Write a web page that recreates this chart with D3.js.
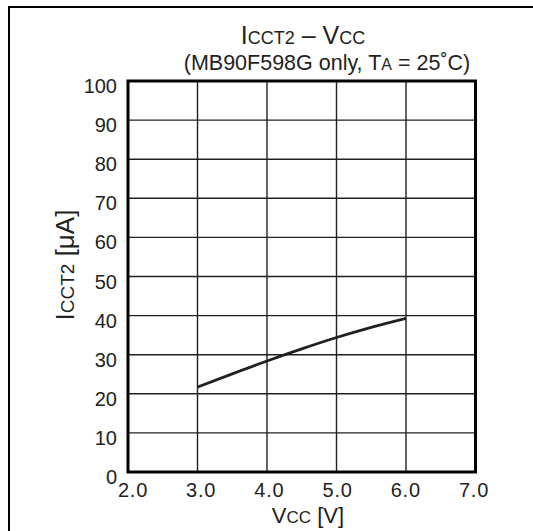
<!DOCTYPE html>
<html><head><meta charset="utf-8">
<script src="https://cdn.jsdelivr.net/npm/d3@7"></script>
<style>body{margin:0;background:#fff}svg{display:block}text{font-family:"Liberation Sans",Arial,sans-serif;fill:#231f20}</style>
</head><body>
<script>
const vcc = [3.0, 3.5, 4.0, 4.5, 5.0, 5.5, 6.0];
const icct2 = [21.7, 25.1, 28.4, 31.5, 34.4, 37.0, 39.3];
const xTicks = [2.0, 3.0, 4.0, 5.0, 6.0, 7.0];
const yTicks = [0, 10, 20, 30, 40, 50, 60, 70, 80, 90, 100];

const W = 533, H = 531;
const svg = d3.select("body").append("svg").attr("width", W).attr("height", H);
const m = {l:128, r:475.5, t:81, b:472};
const x = d3.scaleLinear().domain([2, 7]).range([m.l, m.r]);
const xLab = d3.scaleLinear().domain([2, 7]).range([m.l + 5, m.r - 1.5]);
const y = d3.scaleLinear().domain([0, 100]).range([m.b, m.t]);

// outer frame (top and left lines)
svg.append("line").attr("x1", 8).attr("x2", W).attr("y1", 7).attr("y2", 7).attr("stroke", "#000").attr("stroke-width", 2);
svg.append("line").attr("x1", 9).attr("x2", 9).attr("y1", 6).attr("y2", H).attr("stroke", "#000").attr("stroke-width", 2);

// grid
const g = svg.append("g");
g.selectAll(".vg").data(xTicks.slice(1, -1)).enter().append("line")
  .attr("x1", d => x(d)).attr("x2", d => x(d)).attr("y1", m.t).attr("y2", m.b)
  .attr("stroke", "#231f20").attr("stroke-width", 1.4);
g.selectAll(".hg").data(yTicks.slice(1, -1)).enter().append("line")
  .attr("x1", m.l).attr("x2", m.r).attr("y1", d => y(d)).attr("y2", d => y(d))
  .attr("stroke", "#231f20").attr("stroke-width", 1.4);
// plot border
g.append("rect").attr("x", m.l).attr("y", m.t).attr("width", m.r - m.l).attr("height", m.b - m.t)
  .attr("fill", "none").attr("stroke", "#000").attr("stroke-width", 3);

// curve
const line = d3.line().x((d, i) => x(vcc[i])).y(d => y(d)).curve(d3.curveMonotoneX);
svg.append("path").datum(icct2).attr("d", line).attr("fill", "none")
  .attr("stroke", "#231f20").attr("stroke-width", 2.8);

// axis tick labels
svg.selectAll(".xl").data(xTicks).enter().append("text")
  .attr("x", d => xLab(d)).attr("y", 496.5).attr("text-anchor", "middle")
  .style("font-size", "20px").style("letter-spacing", "0.8px").text(d => d.toFixed(1));
svg.selectAll(".yl").data(yTicks.slice(1)).enter().append("text")
  .attr("x", 117).attr("y", d => y(d) + 12).attr("text-anchor", "end")
  .style("font-size", "20px").text(d => d);
svg.append("text").attr("x", 117).attr("y", y(0) + 11.5).attr("text-anchor", "end")
  .style("font-size", "20px").text(yTicks[0]);

// titles
const t1 = svg.append("text").attr("x", 303).attr("y", 43.5).attr("text-anchor", "middle").style("font-size", "25px");
t1.append("tspan").text("I");
t1.append("tspan").style("font-size", "18px").text("CCT2");
t1.append("tspan").text(" – V");
t1.append("tspan").style("font-size", "18px").text("CC");

const t2 = svg.append("text").attr("x", 327).attr("y", 69.5).attr("text-anchor", "middle").style("font-size", "21.5px");
t2.append("tspan").text("(MB90F598G only, T");
t2.append("tspan").style("font-size", "16px").text("A");
t2.append("tspan").text(" = 25˚C)");

const xt = svg.append("text").attr("x", 308).attr("y", 522.5).attr("text-anchor", "middle").style("font-size", "22px");
xt.append("tspan").text("V");
xt.append("tspan").style("font-size", "17px").text("CC");
xt.append("tspan").text(" [V]");

const yt = svg.append("text").attr("transform", "translate(74,265) rotate(-90)").attr("text-anchor", "middle").style("font-size", "26px");
yt.append("tspan").text("I");
yt.append("tspan").style("font-size", "19px").text("CCT2");
yt.append("tspan").text(" [μA]");
</script>
</body></html>
